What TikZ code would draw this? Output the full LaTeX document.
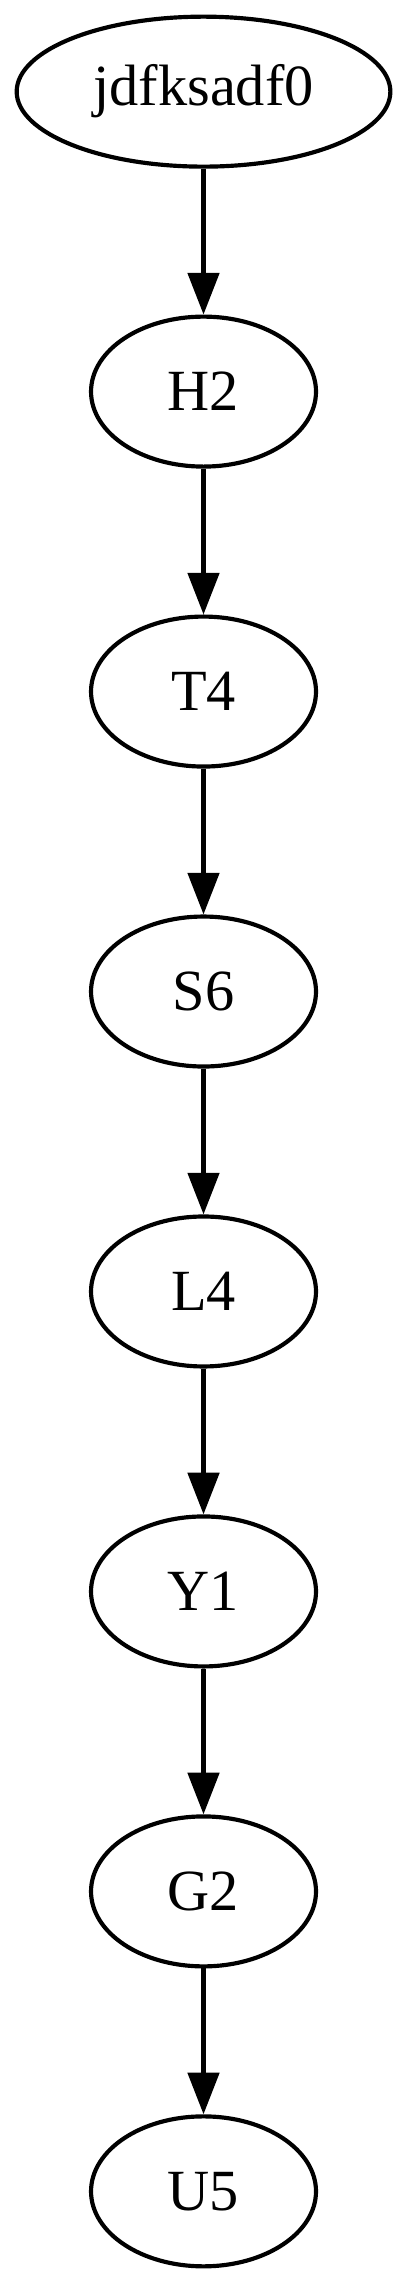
\documentclass[tikz,border=0pt]{standalone}
\usepackage{fontspec}
\setmainfont{Liberation Serif}
\usepackage{tikz}
\usetikzlibrary{arrows.meta,positioning,shapes.geometric}

\begin{document}
\begin{tikzpicture}[font=\fontsize{14}{16}\selectfont]
    \tikzset{
        state/.style={draw, ellipse, line width=1pt, inner sep=0pt,
                minimum width=54pt, minimum height=36pt},
        link/.style={-{Triangle[length=10pt, width=7.5pt]}, line width=1pt}
    }

    \useasboundingbox (0,0) rectangle (97.7pt,-548pt);

    % ---- CHAIN ----
    \node[state, minimum width=89.7pt] (jdfksadf0) at (48.85pt,-22pt) {jdfksadf0};
    \node[state, below=35pt of jdfksadf0] (H2) {H2};
    \node[state, below=35pt of H2] (T4) {T4};
    \node[state, below=35pt of T4] (S6) {S6};
    \node[state, below=35pt of S6] (L4) {L4};
    \node[state, below=35pt of L4] (Y1) {Y1};
    \node[state, below=35pt of Y1] (G2) {G2};
    \node[state, below=35pt of G2] (U5) {U5};

    % ---- EDGES ----
    \foreach \a/\b in {jdfksadf0/H2, H2/T4, T4/S6, S6/L4, L4/Y1, Y1/G2, G2/U5} {
            \draw[link] (\a) -- (\b);
        }

\end{tikzpicture}
\end{document}
